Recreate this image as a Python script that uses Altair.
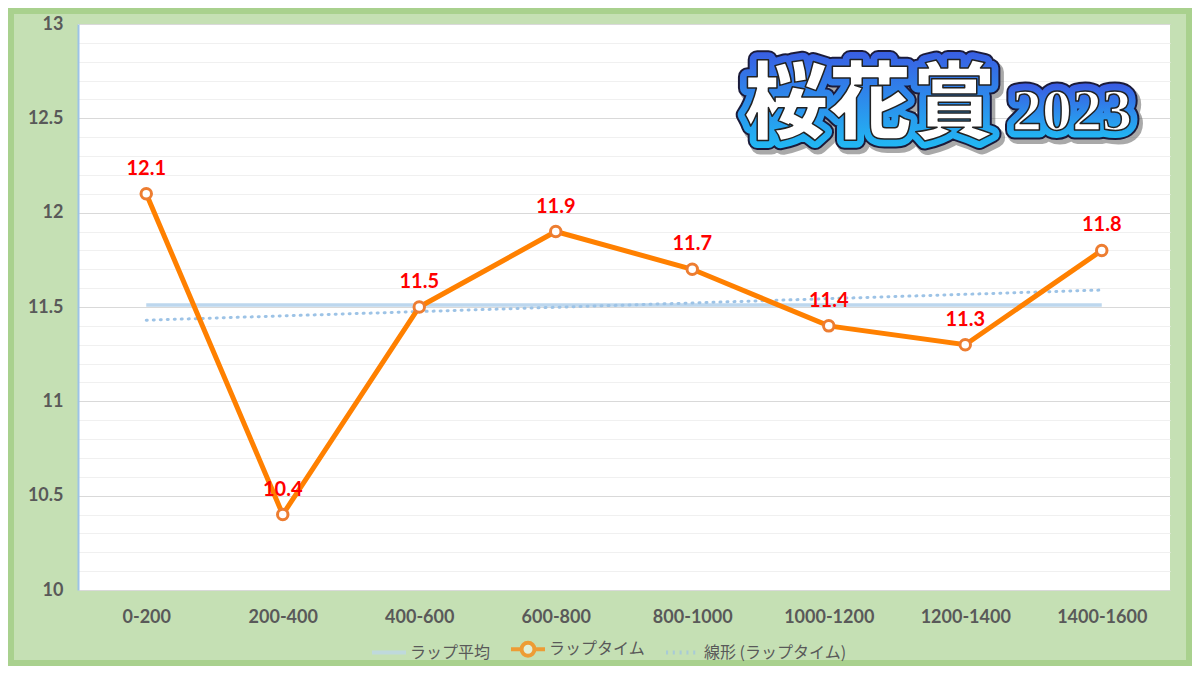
import altair as alt
import pandas as pd

# values
sections = ["0-200", "200-400", "400-600", "600-800", "800-1000", "1000-1200", "1200-1400", "1400-1600"]
lap_times = [12.1, 10.4, 11.5, 11.9, 11.7, 11.4, 11.3, 11.8]
avg_sections = ["0-200", "1400-1600"]
avg_values = [11.51, 11.51]
trend_sections = ["0-200", "1400-1600"]
trend_values = [11.43, 11.59]
series_names = ["ラップ平均", "ラップタイム", "線形 (ラップタイム)"]
series_colors = ["#bdd7ee", "#ff8000", "#9dc3e6"]
y_ticks = [round(10 + i * 0.1, 1) for i in range(31)]
title_main = "桜花賞"
title_year = "2023"

rows = (
    [{"section": s, "value": v, "series": "lap"} for s, v in zip(sections, lap_times)]
    + [{"section": s, "value": v, "series": "avg"} for s, v in zip(avg_sections, avg_values)]
    + [{"section": s, "value": v, "series": "trend"} for s, v in zip(trend_sections, trend_values)]
)
df = pd.DataFrame(rows)

major = "round(datum.value * 10) % 5 == 0"
x_enc = alt.X("section:N", sort=sections, title=None,
              axis=alt.Axis(labelAngle=0, labelFont="Lato", labelFontWeight="bold", labelFontSize=18,
                            labelColor="#595959", labelPadding=18, ticks=False, domain=False, grid=False))
y_enc = alt.Y("value:Q", title=None, scale=alt.Scale(domain=[10, 13], nice=False, zero=False),
              axis=alt.Axis(values=y_ticks, labelExpr=f"{major} ? '' + datum.value : ''", labelOverlap=False,
                            labelFont="Lato", labelFontWeight="bold", labelFontSize=18, labelColor="#595959",
                            labelPadding=15, ticks=False, domainColor="#9dc3e6", domainWidth=2,
                            gridColor={"condition": {"test": major, "value": "#d9d9d9"}, "value": "#f0f0f0"},
                            gridWidth=1))

base = alt.Chart(df).encode(x=x_enc, y=y_enc)

avg_line = base.transform_filter("datum.series == 'avg'").mark_line(color="#bdd7ee", strokeWidth=3.5)
trend_line = base.transform_filter("datum.series == 'trend'").mark_line(
    color="#9dc3e6", strokeWidth=3, strokeDash=[1, 6], strokeCap="round")
lap = base.transform_filter("datum.series == 'lap'")
lap_line = lap.mark_line(color="#ff8000", strokeWidth=5)
lap_points = lap.mark_point(shape="circle", filled=True, fill="white", stroke="#ed7d31",
                            strokeWidth=3, size=110, opacity=1)
lap_labels = lap.mark_text(dy=-25, color="#ff0000", font="Lato", fontWeight="bold", fontSize=20).encode(
    text=alt.Text("value:Q", format=".1f"))

# legend, built from the colour / shape scales (no marks drawn)
leg = alt.Legend(title=None, orient="none", legendX=292, legendY=606, direction="horizontal",
                 symbolSize=1156, symbolStrokeWidth=4, labelFont="Noto Sans CJK JP", labelFontSize=16,
                 labelColor="#595959", labelOffset=2, columnPadding=12)
paths = [
    "M-1,0H1",
    "M-1,0H-0.38M0.38,0H1M-0.38,0A0.38,0.38,0,1,1,0.38,0A0.38,0.38,0,1,1,-0.38,0Z",
    "M-1,0h0.12M-0.6,0h0.12M-0.2,0h0.12M0.2,0h0.12M0.6,0h0.12",
]
legend_layer = alt.Chart(pd.DataFrame({"series": series_names})).transform_filter("false").mark_point(
    filled=False).encode(
    stroke=alt.Stroke("series:N", scale=alt.Scale(domain=series_names, range=series_colors), legend=leg),
    fill=alt.Fill("series:N", scale=alt.Scale(domain=series_names, range=["white"] * 3), legend=leg),
    shape=alt.Shape("series:N", scale=alt.Scale(domain=series_names, range=paths), legend=leg),
)

# decorative title
one = pd.DataFrame({"k": [0]})
grad = {"gradient": "linear", "x1": 0, "y1": 0, "x2": 0, "y2": 1,
        "stops": [{"offset": 0, "color": "#3d4fe0"}, {"offset": 1, "color": "#1fc0f5"}]}


def title_layer(text, x, y, size, font, weight):
    pos = dict(x=alt.value(x), y=alt.value(y))
    common = dict(text=text, font=font, fontSize=size, fontWeight=weight, align="center",
                  baseline="alphabetic", strokeJoin="round")
    shadow = alt.Chart(one).mark_text(**common, fill="#555", stroke="#555", strokeWidth=20,
                                      opacity=0.5, dx=3, dy=4).encode(**pos)
    edge = alt.Chart(one).mark_text(**common, fill="#1b1b3a", stroke="#1b1b3a", strokeWidth=19).encode(**pos)
    band = alt.Chart(one).mark_text(**common, fill="#2f7ae8", stroke=grad, strokeWidth=15).encode(**pos)
    face = alt.Chart(one).mark_text(**common, fill="white", stroke="#222", strokeWidth=1.5).encode(**pos)
    return [shadow, edge, band, face]


frame = alt.Chart(one).mark_rect(fill="transparent", stroke="#a9d18e", strokeWidth=6).encode(
    x=alt.value(-67), x2=alt.value(1111), y=alt.value(-13), y2=alt.value(639))

chart = alt.layer(
    frame, avg_line, trend_line, lap_line, lap_points, lap_labels, legend_layer,
    *title_layer(title_main, 792, 108, 84, "Noto Sans CJK JP", 900),
    *title_layer(title_year, 994, 106, 60, "Liberation Serif", "bold"),
).properties(
    width=1092, height=566,
    padding={"left": 70, "top": 16, "right": 22, "bottom": 76},
    autosize=alt.AutoSizeParams(type="none"),
    background="#c5e0b4",
    view=alt.ViewBackground(fill="white", stroke=None),
)

chart.save("out.html", embed_options={"renderer": "svg", "actions": False})
